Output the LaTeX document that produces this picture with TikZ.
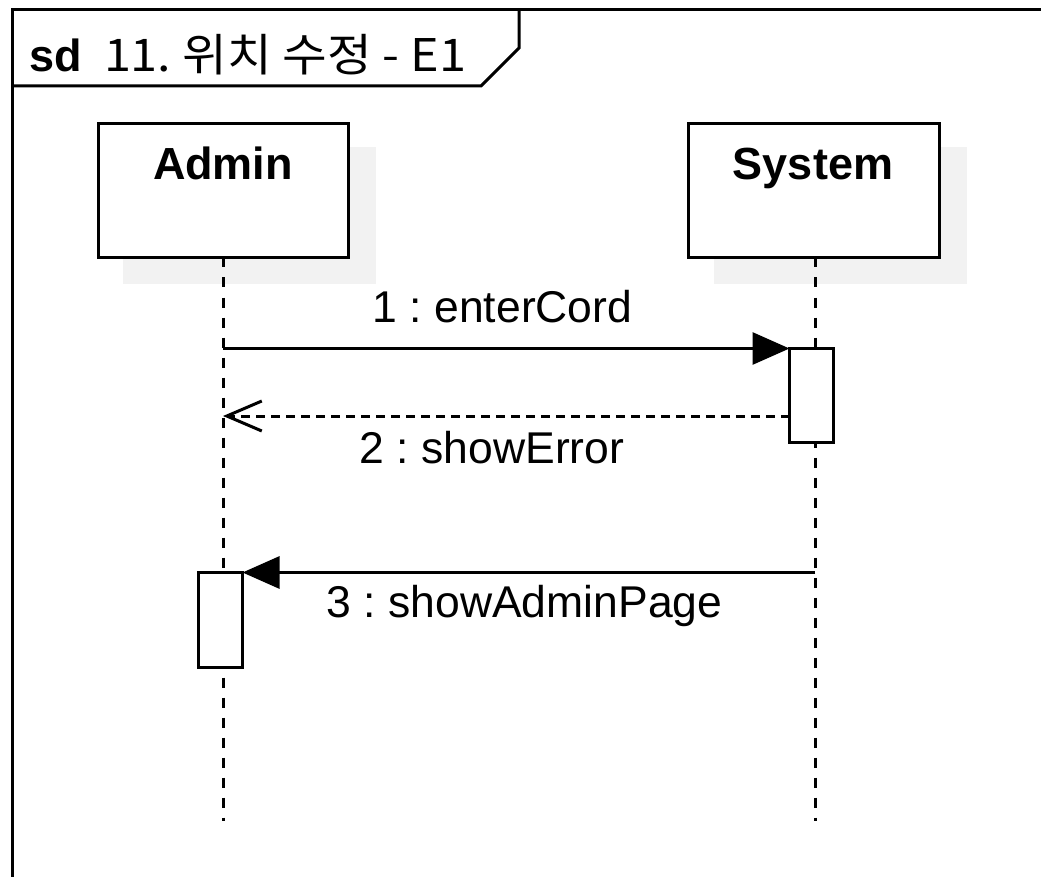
\documentclass[tikz,border=0pt]{standalone}
\usepackage{fontspec}
\setmainfont{Liberation Sans}
\newfontfamily\cjk[FakeStretch=1.08]{Noto Sans CJK KR}
\usetikzlibrary{arrows.meta}
\definecolor{shadowgray}{HTML}{F2F2F2}
\frenchspacing
\begin{document}
\begin{tikzpicture}[x=1pt,y=-1pt,
  line width=3pt,
  lbl/.style={font=\fontsize{44.5}{53}\selectfont, inner sep=0pt, anchor=base},
  hdr/.style={font=\fontsize{45}{54}\selectfont\bfseries, inner sep=0pt, anchor=base},
  objbox/.style={draw, fill=white, minimum width=250pt, minimum height=134pt, inner sep=0pt, outer sep=0pt},
  shadowbox/.style={fill=shadowgray, draw=none, minimum width=253pt, minimum height=137pt, inner sep=0pt},
  actbox/.style={draw, fill=white, minimum width=44pt, inner sep=0pt, outer sep=0pt},
  lifeline/.style={dash pattern=on 10pt off 10pt},
  msg/.style={-{Triangle[length=37pt,width=32pt]}},
  reply/.style={dash pattern=on 9pt off 6pt, -{Straight Barb[length=35pt,width=30pt]}},
]
\useasboundingbox (0,0) rectangle (1041,877);
% frame
\draw (12,885) -- (12,10) -- (1050,10);
\draw (12,86) -- (481,86) -- (519,48) -- (519,10);
\node[anchor=base west, inner sep=0pt, font=\fontsize{45}{54}\selectfont] (title) at (28,72)
  {\textbf{sd}\hspace{22pt}{\cjk 11. 위치 수정 - E1}};
% shadows
\node[shadowbox] (adminsh) at (249,215.5) {};
\node[shadowbox] (systemsh) at (840,215.5) {};
% lifeline heads
\node[objbox] (admin) at (223,190.5) {};
\node[objbox, minimum width=251pt] (system) at (814,190.5) {};
\node[hdr] (adminlbl) at (223,180) {Admin};
\node[hdr] (systemlbl) at (813,180) {System};
% lifeline ends
\coordinate (adminend) at (223,821);
\coordinate (systemend) at (815,821);
\draw[lifeline] (admin.south) -- (adminend);
\draw[lifeline] ([xshift=1pt]system.south) -- (systemend);
% activation boxes
\node[actbox, minimum height=94pt] (act1) at (811.5,395.5) {};
\node[actbox, minimum height=95pt] (act2) at (220.5,620) {};
% messages
\draw[msg] (admin.south |- act1.north west) -- (act1.north west);
\coordinate (r2from) at (789.5,416);
\coordinate (r2to) at (223,416);
\draw[reply] (r2from) -- (r2to);
\draw[msg] (systemend |- act2.north east) -- (act2.north east);
% labels
\node[lbl] (m1) at (502.5,323) {1 : enterCord};
\node[lbl] (m2) at (492,463) {2 : showError};
\node[lbl] (m3) at (524.5,617) {3 : showAdminPage};
\end{tikzpicture}
\end{document}
